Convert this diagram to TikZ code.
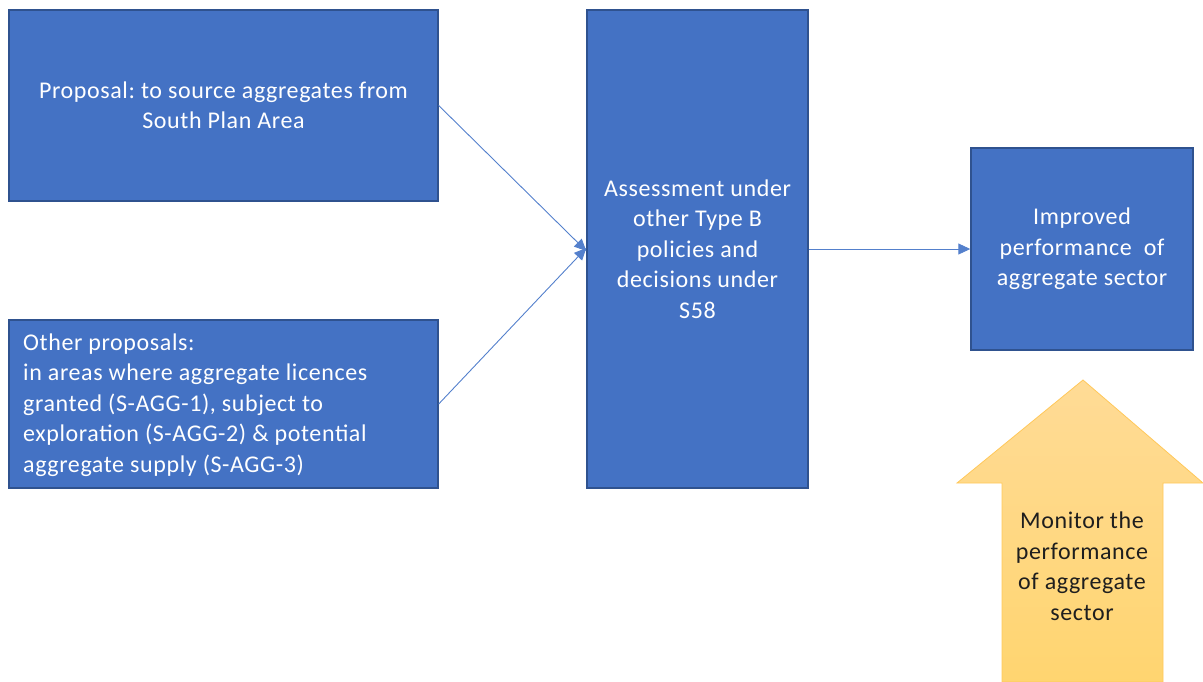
\documentclass[tikz,border=0pt]{standalone}
\usepackage{fontspec}
\setmainfont{Carlito}[LetterSpace=2.5]
\usetikzlibrary{arrows.meta,positioning}
\frenchspacing
\definecolor{boxblue}{RGB}{68,114,196}
\definecolor{boxedge}{RGB}{47,82,143}
\definecolor{linkblue}{RGB}{84,128,204}
\definecolor{goldtop}{RGB}{255,219,150}
\definecolor{goldbot}{RGB}{255,213,112}
\definecolor{goldedge}{RGB}{255,200,90}
\newcommand{\labelfont}{\fontsize{24}{30.5}\selectfont}
\tikzset{
  bluebox/.style={draw=boxedge, line width=1.4pt, fill=boxblue, text=white,
    inner sep=0pt, font=\labelfont},
  link/.style={draw=linkblue, line width=0.9pt,
    -{Triangle[length=12pt,width=11pt]}},
}
\begin{document}
\begin{tikzpicture}[x=1pt,y=-1pt]
\useasboundingbox (0,0) rectangle (1203,681);

% input boxes
\node[bluebox, minimum width=429pt, minimum height=191pt, align=center]
  (prop) at (223.5,105.5) {Proposal: to source aggregates from\\South Plan Area};
\node[bluebox, minimum width=429pt, minimum height=168pt] (other) at (223.5,404) {};
\node[text=white, font=\labelfont, align=left, anchor=west,
  inner sep=0pt] (otherText) at (23,405)
  {Other proposals:\\in areas where aggregate licences\\granted (S-AGG-1), subject to\\exploration (S-AGG-2) \& potential\\aggregate supply (S-AGG-3)};

% assessment
\node[bluebox, minimum width=221pt, minimum height=478pt, align=center]
  (assess) at (697.5,249) {Assessment under\\other Type B\\policies and\\decisions under\\S58};

% outcome
\node[bluebox, minimum width=222pt, minimum height=202pt, align=center]
  (outcome) at (1082,249) {Improved\\performance~~of\\aggregate sector};

% connectors
\draw[link] (prop.east) -- ([yshift=-2pt]assess.west);
\draw[link] (other.east) -- ([yshift=1pt]assess.west);
\draw[link] (assess.east) -- (outcome.west);

% monitoring arrow
\path[top color=goldtop, bottom color=goldbot, draw=goldedge, line width=0.8pt]
  (1083,380) -- (1203,483) -- (1163,483) -- (1163,682) -- (1002,682)
  -- (1002,483) -- (957,483) -- cycle;
\node[text={rgb,255:red,30;green,30;blue,30}, align=center,
  font=\labelfont, inner sep=0pt]
  (monitor) at (1082,566) {Monitor the\\performance\\of aggregate\\sector};
\end{tikzpicture}
\end{document}
